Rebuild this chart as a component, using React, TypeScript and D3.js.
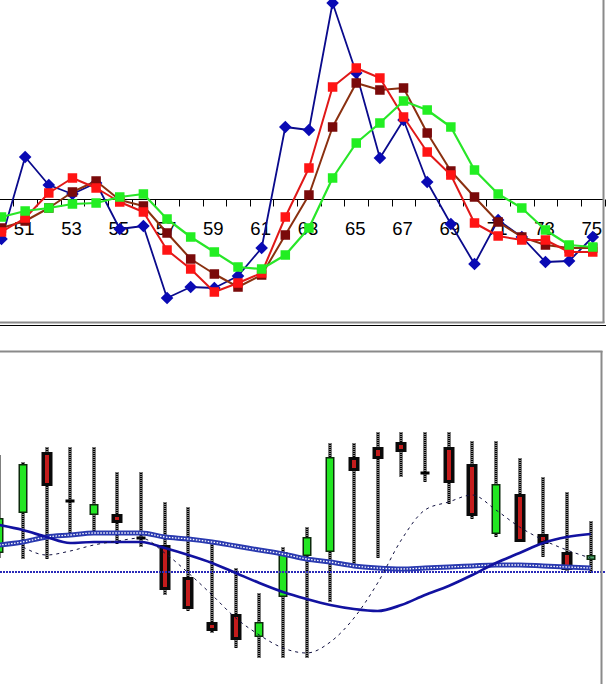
import React from 'react';
import * as d3 from 'd3';

// ---------- data ----------
const periods = [50, 51, 52, 53, 54, 55, 56, 57, 58, 59, 60, 61, 62, 63, 64, 65, 66, 67, 68, 69, 70, 71, 72, 73, 74, 75];
const tickLabels = [51, 53, 55, 57, 59, 61, 63, 65, 67, 69, 71, 73, 75];

// top panel oscillators
const blueOsc = [-19.5, 21.5, 7.5, 3, 8.5, -14.5, -13, -49, -43.5, -44, -38, -24, 36.5, 35, 98.5, 63.5, 21, 40, 9, -12, -32, -10, -18.5, -31, -30.5, -18.5];
const redOsc = [-16, -9, 3.5, 11, 6, -1, -6, -25, -34.5, -46, -41.5, -36.5, -8.5, 16, 56.5, 66, 61, 41.5, 24, 12.5, -11.5, -18, -20, -20, -26, -26];
const darkRedOsc = [-14, -10.5, -4, 4, 9.5, 0, -3, -16.5, -29.5, -37, -43.5, -37.5, -17.5, 2.5, 36.5, 58.5, 55, 56, 33.5, 14.5, 1.5, -11, -18.5, -22.5, -24, -24];
const greenOsc = [-8.5, -5.5, -4, -2, -1.5, 1.5, 3, -9.5, -18.5, -26, -33.5, -34.5, -27.5, -14, 11, 28.5, 38.5, 49.5, 45, 36.5, 15, 3, -4, -15, -22.5, -23.5];

// bottom panel candles
const opens = [147, 187, 248, 199, 185, 186, 162, 155, 123, 78, 86, 63, 103, 144, 148, 243, 253, 258, 227, 253, 236, 166, 206, 166, 148, 140];
const highs = [245, 238, 253, 253, 253, 228, 228, 198, 193, 158, 132, 107, 153, 173, 257, 257, 268, 268, 268, 268, 259, 259, 242, 223, 208, 179];
const lows = [142, 141, 141, 163, 165, 156, 153, 105, 89, 67, 52, 42, 42, 42, 98, 135, 142, 223, 218, 196, 181, 163, 158, 143, 129, 127];
const closes = [182, 236, 214, 199, 196, 177, 162, 110, 91, 69, 60, 78, 148, 163, 243, 229, 241, 248, 227, 217, 184, 216, 158, 156, 130, 145];

// bottom panel overlays
const maSolid = [175, 170, 163, 157, 158, 158, 158, 152, 145, 137, 127, 117, 108, 101, 95, 91, 89, 95, 105, 114, 125, 137, 147, 157, 163, 166];
const maHatched = [155, 158, 163, 165, 167, 167, 167, 163, 161, 158, 154, 150, 146, 141, 138, 134, 132, 131, 132, 133, 134, 135, 135, 134, 133, 132];
const dashedSignal = [null, 153, 145, 149, 155, 159, 162, 147, 127, 105, 82, 65, 52, 47, 58, 82, 117, 160, 190, 198, 205, 190, 173, 160, 150, 142];
const baseLevel = 128;

// ---------- component ----------
export default function App() {
  const W = 606;
  const H = 684;

  const xTop = d3.scaleLinear().domain([50, 75]).range([1.5, 592.75]);
  const yTop = d3.scaleLinear().domain([0, 100]).range([200, 0]);
  const xBot = d3.scaleLinear().domain([50, 75]).range([-0.8, 590.5]);
  const yBot = d3.scaleLinear().domain([0, 300]).range([700, 400]);

  const topLine = (vals: number[]) =>
    d3.line<number>().x((_, i) => xTop(periods[i])).y((d) => yTop(d))(vals) || '';

  const botLine = (vals: (number | null)[], curve: d3.CurveFactory) =>
    d3
      .line<number | null>()
      .defined((d) => d !== null)
      .x((_, i) => xBot(periods[i]))
      .y((d) => yBot(d as number))
      .curve(curve)(vals) || '';

  const axisY = yTop(0) - 0.5;
  const tickXs = periods.map((p) => xTop(p + 0.5));

  const series = [
    { vals: blueOsc, line: '#0a0a8c', marker: '#0a0ab4', shape: 'diamond', w: 1.8 },
    { vals: darkRedOsc, line: '#8a3010', marker: '#7a0a0a', shape: 'square', w: 2 },
    { vals: redOsc, line: '#e01818', marker: '#ff1414', shape: 'square', w: 2 },
    { vals: greenOsc, line: '#28e628', marker: '#22ee22', shape: 'square', w: 2.2 },
  ];

  return (
    <svg
      width={W}
      height={H}
      viewBox={`0 0 ${W} ${H}`}
      style={{ position: 'absolute', left: 0, top: 0, background: '#ffffff' }}
      fontFamily="'Liberation Sans', Arial, sans-serif"
    >
      <rect x={0} y={0} width={W} height={H} fill="#ffffff" />

      {/* ---------- top panel ---------- */}
      <line x1={0} x2={604} y1={axisY} y2={axisY} stroke="#000" strokeWidth={1} />
      {tickXs.map((tx, i) => (
        <line key={'t' + i} x1={Math.round(tx) + 0.5} x2={Math.round(tx) + 0.5} y1={axisY} y2={axisY + 7} stroke="#000" strokeWidth={1} />
      ))}
      {tickLabels.map((lab) => (
        <text key={'l' + lab} x={xTop(lab) - 1} y={235} fontSize={18.5} textAnchor="middle" fill="#000">
          {lab}
        </text>
      ))}
      {series.map((s, si) => (
        <g key={'s' + si}>
          <path d={topLine(s.vals)} fill="none" stroke={s.line} strokeWidth={s.w} strokeLinejoin="round" />
          {s.vals.map((v, i) => {
            const cx = xTop(periods[i]);
            const cy = yTop(v);
            if (s.shape === 'diamond') {
              const r = 6.3;
              return (
                <path key={i} d={`M${cx},${cy - r}L${cx + r},${cy}L${cx},${cy + r}L${cx - r},${cy}Z`} fill={s.marker} />
              );
            }
            return <rect key={i} x={cx - 4.75} y={cy - 4.75} width={9.5} height={9.5} fill={s.marker} />;
          })}
        </g>
      ))}

      {/* top panel frame */}
      <line x1={603.5} x2={603.5} y1={0} y2={323} stroke="#8a8a8a" strokeWidth={2} />
      <line x1={0} x2={604.5} y1={322.5} y2={322.5} stroke="#8a8a8a" strokeWidth={2} />
      <line x1={0} x2={606} y1={325.5} y2={325.5} stroke="#000" strokeWidth={1} />

      {/* ---------- bottom panel ---------- */}
      {/* wicks */}
      {periods.map((p, i) => {
        const cx = Math.round(xBot(p));
        return (
          <g key={'w' + i}>
            <rect x={cx - 1.5} y={yBot(highs[i])} width={3} height={yBot(lows[i]) - yBot(highs[i])} fill="#000" />
            <line x1={cx} x2={cx} y1={yBot(highs[i])} y2={yBot(lows[i])} stroke="#fff" strokeWidth={1} strokeDasharray="1 1" />
          </g>
        );
      })}
      {/* bodies */}
      {periods.map((p, i) => {
        const cx = Math.round(xBot(p));
        const o = opens[i];
        const c = closes[i];
        const top = yBot(Math.max(o, c));
        const bot = yBot(Math.min(o, c));
        const h = bot - top;
        if (h < 1) {
          return <rect key={'b' + i} x={cx - 4.5} y={top - 1.5} width={9} height={3} fill="#000" />;
        }
        if (c > o) {
          return (
            <g key={'b' + i}>
              <rect x={cx - 4.5} y={top} width={9} height={h} fill="#0c2a0c" />
              <rect x={cx - 3} y={top + 1.5} width={6} height={Math.max(h - 3, 1)} fill={h < 8 ? '#4ea86a' : '#22e622'} />
            </g>
          );
        }
        return (
          <g key={'b' + i}>
            <rect x={cx - 5.5} y={top} width={11} height={h} fill="#0a0a0a" />
            <rect x={cx - 2} y={top + 3} width={4} height={Math.max(h - 6, 2)} fill="#c41c1c" />
          </g>
        );
      })}

      {/* base dotted level */}
      <line x1={0} x2={606} y1={yBot(baseLevel)} y2={yBot(baseLevel)} stroke="#2a2ab8" strokeWidth={2} strokeDasharray="2 1" />

      {/* hatched average */}
      <path d={botLine(maHatched, d3.curveMonotoneX)} fill="none" stroke="#2a3ab0" strokeWidth={5} />
      <path d={botLine(maHatched, d3.curveMonotoneX)} fill="none" stroke="#ffffff" strokeWidth={1.3} strokeDasharray="1.5 1.5" />

      {/* solid average */}
      <path d={botLine(maSolid, d3.curveMonotoneX)} fill="none" stroke="#1212a0" strokeWidth={2.7} />

      {/* dashed signal */}
      <path d={botLine(dashedSignal, d3.curveMonotoneX)} fill="none" stroke="#101040" strokeWidth={1} strokeDasharray="3 4" />

      {/* bottom panel frame */}
      <line x1={0} x2={602.5} y1={351.5} y2={351.5} stroke="#8a8a8a" strokeWidth={2} />
      <line x1={601.5} x2={601.5} y1={351} y2={684} stroke="#8a8a8a" strokeWidth={2} />
    </svg>
  );
}
